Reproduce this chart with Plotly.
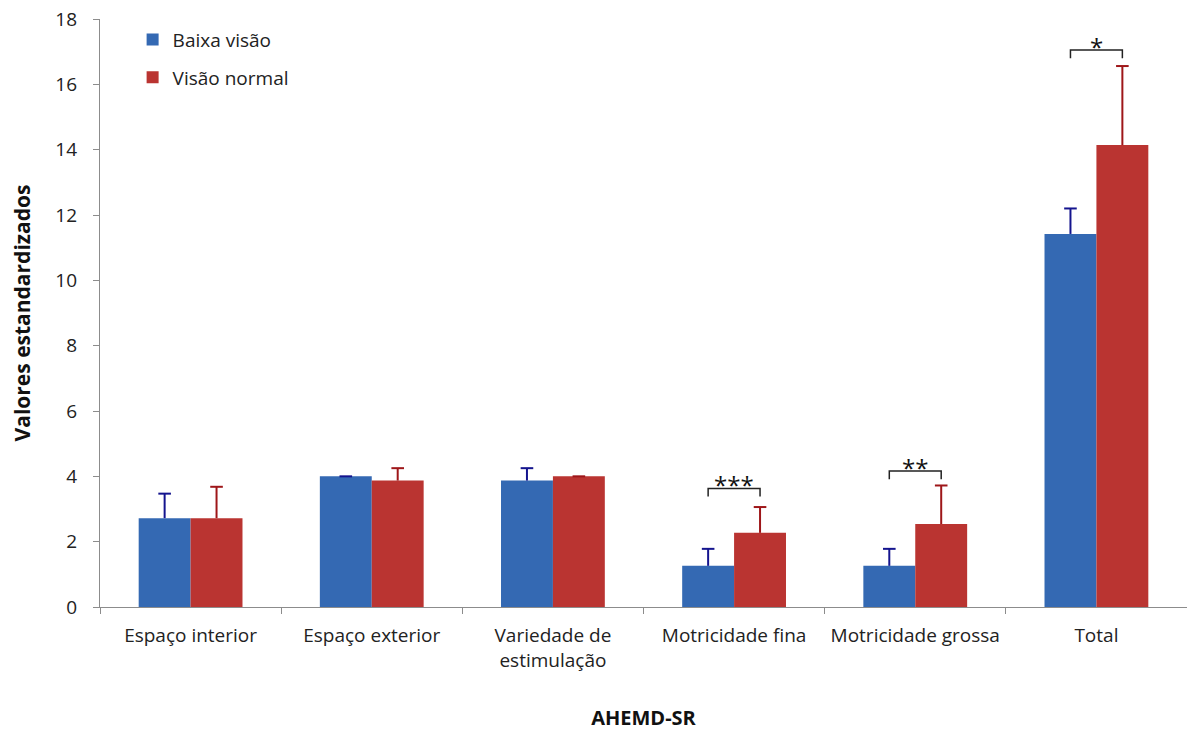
import plotly.graph_objects as go

categories = ["Espaço interior", "Espaço exterior", "Variedade de<br>estimulação",
              "Motricidade fina", "Motricidade grossa", "Total"]
baixa_visao = [2.72, 4.00, 3.87, 1.26, 1.26, 11.42]
baixa_visao_err = [0.75, 0.0, 0.38, 0.52, 0.52, 0.78]
visao_normal = [2.72, 3.87, 4.00, 2.27, 2.54, 14.14]
visao_normal_err = [0.96, 0.38, 0.0, 0.79, 1.18, 2.42]

# significance brackets: category index, bracket height, label
sig_index = [3, 4, 5]
sig_height = [3.63, 4.16, 17.05]
sig_label = ["***", "**", "*"]

BARGAP = 0.427
FONT = "Open Sans, sans-serif"
BLUE, BLUE_ERR = "#3469B3", "#14148E"
RED, RED_ERR = "#BA3431", "#9E1619"

fig = go.Figure()
for name, vals, errs, col, ecol, grp in [
        ("Baixa visão", baixa_visao, baixa_visao_err, BLUE, BLUE_ERR, "a"),
        ("Visão normal", visao_normal, visao_normal_err, RED, RED_ERR, "b")]:
    fig.add_trace(go.Bar(
        x=categories, y=vals, name=name,
        marker=dict(color=col, line=dict(width=0)),
        legendgroup=grp, offsetgroup=grp,
    ))
for name, vals, errs, col, ecol, grp in [
        ("Baixa visão", baixa_visao, baixa_visao_err, BLUE, BLUE_ERR, "a"),
        ("Visão normal", visao_normal, visao_normal_err, RED, RED_ERR, "b")]:
    tops = [v + e for v, e in zip(vals, errs)]
    fig.add_trace(go.Scatter(
        x=categories, y=tops, mode="markers", showlegend=False,
        legendgroup=grp, offsetgroup=grp, hoverinfo="skip",
        marker=dict(symbol="line-ew", size=9, line=dict(color=ecol, width=2)),
        error_y=dict(type="data", symmetric=False, array=[0] * len(errs),
                     arrayminus=errs, color=ecol, thickness=2, width=0),
    ))

half = (1 - BARGAP) / 4
drop = 0.25
for idx, h, lab in zip(sig_index, sig_height, sig_label):
    x0 = idx - half
    x1 = idx + half
    fig.add_shape(type="path",
                  path=f"M {x0} {h - drop} L {x0} {h} L {x1} {h} L {x1} {h - drop}",
                  xref="x", yref="y", line=dict(color="#222222", width=1.5))
    fig.add_annotation(x=idx, y=h, text=lab, showarrow=False, yanchor="middle",
                       yshift=4, font=dict(size=24, color="#111111", family=FONT))

fig.update_layout(
    width=1187, height=731,
    margin=dict(l=100, r=0, t=19, b=124),
    plot_bgcolor="white", paper_bgcolor="white",
    barmode="group", bargap=BARGAP, bargroupgap=0,
    scattermode="group", scattergap=BARGAP,
    font=dict(family=FONT, size=19, color="#222222"),
    showlegend=True,
    legend=dict(x=0.03, y=0.997, xanchor="left", yanchor="top",
                font=dict(size=19, color="#222222", family=FONT),
                traceorder="grouped", tracegroupgap=10,
                bgcolor="rgba(0,0,0,0)", itemwidth=30),
    xaxis=dict(
        showline=True, linecolor="#8C8C8C", linewidth=1.3,
        ticks="outside", tickson="boundaries", ticklen=6, tickcolor="#8C8C8C",
        ticklabelstandoff=11,
        tickfont=dict(size=19, color="#222222", family=FONT),
        title=dict(text="<b>AHEMD-SR</b>", standoff=40,
                   font=dict(size=20, color="#111111", family=FONT)),
    ),
    yaxis=dict(
        range=[0, 18], dtick=2, showgrid=False, zeroline=False,
        showline=True, linecolor="#8C8C8C", linewidth=1.3,
        ticks="outside", ticklen=6, tickcolor="#8C8C8C",
        ticklabelstandoff=12,
        tickfont=dict(size=19, color="#222222", family=FONT),
        title=dict(text="<b>Valores estandardizados</b>", standoff=18,
                   font=dict(size=21, color="#111111", family=FONT)),
    ),
)

fig.write_html("out.html")
